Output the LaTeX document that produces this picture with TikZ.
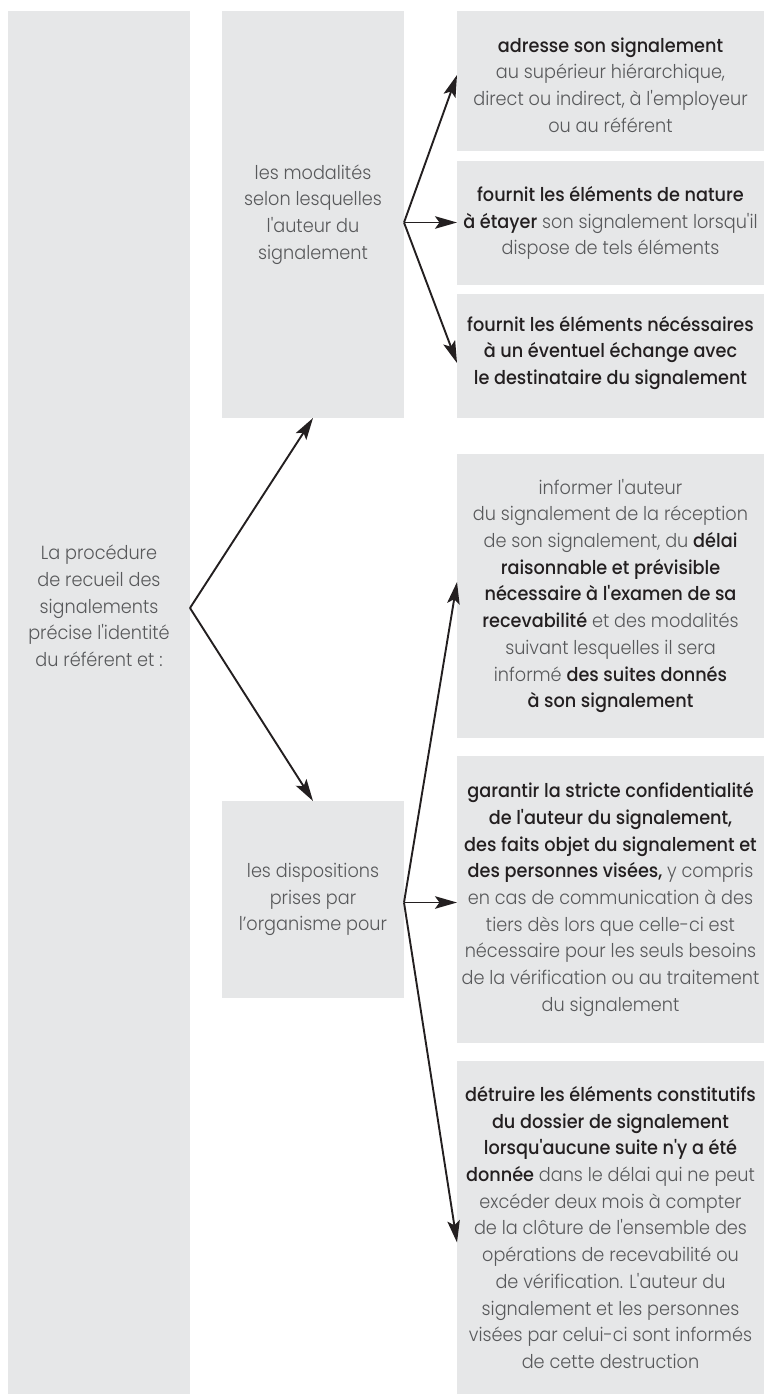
\documentclass[tikz,border=0pt]{standalone}
\usepackage{fontspec}
\usetikzlibrary{arrows.meta,calc}
\newfontfamily\fut{Poppins}[UprightFont=* Light, BoldFont=* Medium, FakeStretch=0.93]
\definecolor{boxgray}{HTML}{E6E7E8}
\definecolor{txtgray}{HTML}{58595B}
\definecolor{txtdark}{HTML}{231F20}
\newcommand{\hb}[1]{{\bfseries\color{txtdark}#1}}
\begin{document}
\begin{tikzpicture}[x=1pt,y=-1pt,
  box/.style={fill=boxgray, inner sep=0pt, outer sep=0pt},
  txt/.style={inner sep=0pt, align=center, text=txtgray, font=\fut\fontsize{19}{26.7}\selectfont},
  arr/.style={line width=1.9pt, draw=txtdark, -{Stealth[length=22pt,width=12.5pt,inset=4.5pt]}}]
\useasboundingbox (0,0) rectangle (764,1394);
% boxes
\node[box, minimum width=182pt, minimum height=1383pt] (lbox) at (99,702.5) {};
\node[box, minimum width=182pt, minimum height=407pt] (m1) at (313,214.5) {};
\node[box, minimum width=182pt, minimum height=197pt] (m2) at (313,899.5) {};
\node[box, minimum width=307pt, minimum height=140pt] (r1) at (610.5,81) {};
\node[box, minimum width=307pt, minimum height=124pt] (r2) at (610.5,223) {};
\node[box, minimum width=307pt, minimum height=124pt] (r3) at (610.5,356) {};
\node[box, minimum width=307pt, minimum height=284pt] (r4) at (610.5,596) {};
\node[box, minimum width=307pt, minimum height=287pt] (r5) at (610.5,899.5) {};
\node[box, minimum width=307pt, minimum height=333pt] (r6) at (610.5,1227.5) {};
% texts
\node[txt] (ltxt) at (99,606) {La procédure\\de recueil des\\signalements\\précise l'identité\\du référent et :};
\node[txt] (m1t) at (m1.center) {les modalités\\selon lesquelles\\l'auteur du\\signalement};
\node[txt] (m2t) at (m2.center) {les dispositions\\prises par\\l’organisme pour};
\node[txt] (r1t) at ([yshift=-4pt]r1.center) {\hb{adresse son signalement}\\au supérieur hiérarchique,\\direct ou indirect, à l'employeur\\ou au référent};
\node[txt] (r2t) at (r2.center) {\hb{fournit les éléments de nature}\\\hb{à étayer} son signalement lorsqu'il\\dispose de tels éléments};
\node[txt] (r3t) at ([yshift=3pt]r3.center) {\hb{fournit les éléments nécéssaires}\\\hb{à un éventuel échange avec}\\\hb{le destinataire du signalement}};
\node[txt] (r4t) at (r4.center) {informer l'auteur\\du signalement de la réception\\de son signalement, du \hb{délai}\\\hb{raisonnable et prévisible}\\\hb{nécessaire à l'examen de sa}\\\hb{recevabilité} et des modalités\\suivant lesquelles il sera\\informé \hb{des suites donnés}\\\hb{à son signalement}};
\node[txt] (r5t) at (r5.center) {\hb{garantir la stricte confidentialité}\\\hb{de l'auteur du signalement,}\\\hb{des faits objet du signalement et}\\\hb{des personnes visées,} y compris\\en cas de communication à des\\tiers dès lors que celle-ci est\\nécessaire pour les seuls besoins\\de la vérification ou au traitement\\du signalement};
\node[txt] (r6t) at (r6.center) {\hb{détruire les éléments constitutifs}\\\hb{du dossier de signalement}\\\hb{lorsqu'aucune suite n'y a été}\\\hb{donnée} dans le délai qui ne peut\\excéder deux mois à compter\\de la clôture de l'ensemble des\\opérations de recevabilité ou\\de vérification. L'auteur du\\signalement et les personnes\\visées par celui-ci sont informés\\de cette destruction};
% branch points
\coordinate (b0) at (lbox.east |- 0,608);
\coordinate (b1) at ([yshift=-8pt]m1.east);
\coordinate (b2) at ([yshift=-3pt]m2.east);
% connectors
\draw[arr] (b0) -- (m1.south);
\draw[arr] (b0) -- (m2.north);
\draw[arr] (b1) -- ([yshift=6pt]r1.west);
\draw[arr] (b1) -- (r2.west |- b1);
\draw[arr] (b1) -- ([yshift=-7pt]r3.west);
\draw[arr] (b2) -- ([yshift=14pt]r4.west);
\draw[arr] (b2) -- (r5.west |- b2);
\draw[arr] (b2) -- ([yshift=-15pt]r6.west);
\end{tikzpicture}
\end{document}
